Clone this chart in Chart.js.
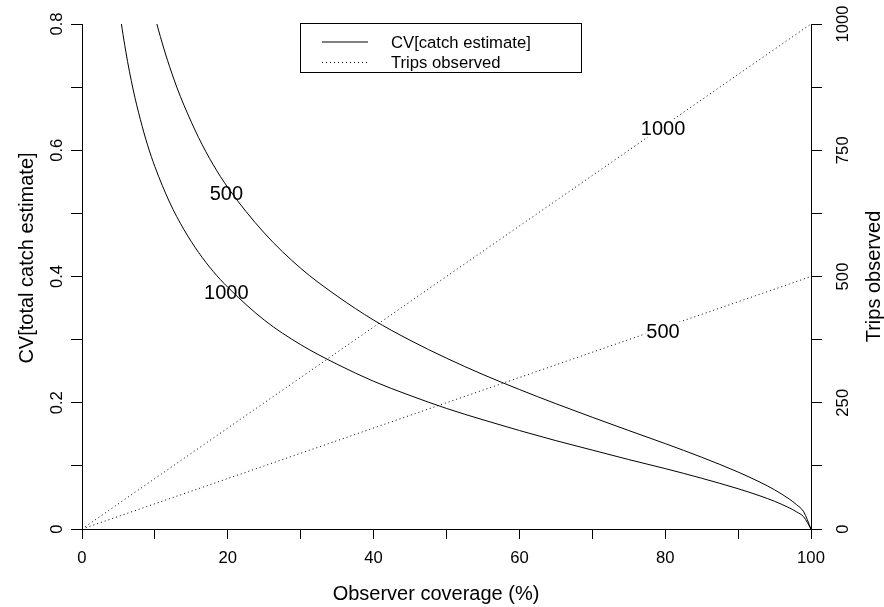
<!DOCTYPE html>
<html>
<head>
<meta charset="utf-8">
<script src="https://cdn.jsdelivr.net/npm/chart.js@4.4.1/dist/chart.umd.min.js"></script>
<style>
  html, body { margin: 0; padding: 0; background: #ffffff; }
  #wrap { width: 884px; height: 607px; }
</style>
</head>
<body>
<div id="wrap"><canvas id="c" width="884" height="607"></canvas></div>
<script>
// ---- data ----
const coverage1000 = [4, 5, 6, 7, 8, 9, 10, 12, 14, 16, 18, 20, 25, 30, 35, 40, 45, 50, 55, 60, 65, 70, 75, 80, 85, 90, 93, 95, 97, 98, 99, 100];
const cv1000 = [0.937, 0.834, 0.757, 0.697, 0.649, 0.608, 0.574, 0.518, 0.474, 0.438, 0.408, 0.383, 0.331, 0.292, 0.261, 0.234, 0.2115, 0.191, 0.173, 0.156, 0.140, 0.125, 0.110, 0.0957, 0.0804, 0.0638, 0.0525, 0.0439, 0.0336, 0.0273, 0.0192, 0];
const coverage500 = [8, 9, 10, 11, 12, 13, 14, 16, 18, 20, 25, 30, 35, 40, 45, 50, 55, 60, 65, 70, 75, 80, 85, 90, 93, 95, 97, 98, 99, 100];
const cv500 = [0.918, 0.860, 0.812, 0.770, 0.733, 0.700, 0.671, 0.620, 0.577, 0.541, 0.469, 0.413, 0.369, 0.331, 0.299, 0.2706, 0.2447, 0.221, 0.1985, 0.177, 0.156, 0.1353, 0.1137, 0.0902, 0.0742, 0.0621, 0.0476, 0.0387, 0.0272, 0];
const tripsCoverage = [0, 100];
const trips1000 = [0, 1000];
const trips500 = [0, 500];

const xTitle = 'Observer coverage (%)';
const yTitle = 'CV[total catch estimate]';
const y2Title = 'Trips observed';
const legendLabels = ['CV[catch estimate]', 'Trips observed'];
// curve labels: [text, x (coverage), value, axis]
const curveLabels = [
  ['500', 19.8, 0.531, 'y'],
  ['1000', 19.8, 0.374, 'y'],
  ['1000', 79.7, 794, 'y2'],
  ['500', 79.7, 392, 'y2']
];

const FONT = "'Liberation Sans', Arial, Helvetica, sans-serif";
const toXY = (xs, ys) => xs.map((x, i) => ({ x: x, y: ys[i] }));

const annotate = {
  id: 'annotate',
  afterDatasetsDraw(chart) {
    const ctx = chart.ctx;
    ctx.save();
    ctx.font = '20px ' + FONT;
    ctx.textAlign = 'center';
    ctx.textBaseline = 'middle';
    curveLabels.forEach(([t, xv, yv, ax]) => {
      const px = chart.scales.x.getPixelForValue(xv);
      const py = chart.scales[ax].getPixelForValue(yv);
      if (ax === 'y2') {
        const w = ctx.measureText(t).width;
        ctx.fillStyle = '#ffffff';
        ctx.fillRect(px - w / 2 - 1, py - 9, w + 2, 18);
      }
      ctx.fillStyle = '#000000';
      ctx.fillText(t, px, py + 1);
    });
    ctx.restore();
  },
  afterDraw(chart) {
    const ctx = chart.ctx;
    const a = chart.chartArea;
    ctx.save();
    ctx.fillStyle = '#000';
    // axis titles
    ctx.font = '20px ' + FONT;
    ctx.textAlign = 'center';
    ctx.textBaseline = 'alphabetic';
    ctx.fillText(xTitle, 436, 600);
    ctx.save();
    ctx.translate(33, 258);
    ctx.rotate(-Math.PI / 2);
    ctx.fillText(yTitle, 0, 0);
    ctx.restore();
    ctx.save();
    ctx.translate(880, (a.top + a.bottom) / 2);
    ctx.rotate(-Math.PI / 2);
    ctx.fillText(y2Title, 0, 0);
    ctx.restore();
    // legend
    ctx.strokeStyle = '#000';
    ctx.lineWidth = 1;
    ctx.strokeRect(300.5, 23.5, 281, 49);
    ctx.beginPath();
    ctx.moveTo(322, 42); ctx.lineTo(368, 42);
    ctx.stroke();
    ctx.setLineDash([1, 3]);
    ctx.beginPath();
    ctx.moveTo(322, 62.5); ctx.lineTo(368, 62.5);
    ctx.stroke();
    ctx.setLineDash([]);
    ctx.font = '16.67px ' + FONT;
    ctx.textAlign = 'left';
    ctx.textBaseline = 'middle';
    ctx.fillText(legendLabels[0], 391, 43);
    ctx.fillText(legendLabels[1], 391, 63);
    ctx.restore();
  }
};

const axisGrid = (len) => ({ drawOnChartArea: false, drawTicks: true, tickLength: len, color: '#000', lineWidth: 1 });
const axisBorder = { display: true, color: '#000', width: 1 };
const tickFont = { family: FONT, size: 16.67 };

new Chart(document.getElementById('c'), {
  type: 'line',
  data: {
    datasets: [
      { data: toXY(coverage500, cv500), yAxisID: 'y', borderColor: '#000', borderWidth: 1, pointRadius: 0, cubicInterpolationMode: 'monotone', fill: false },
      { data: toXY(coverage1000, cv1000), yAxisID: 'y', borderColor: '#000', borderWidth: 1, pointRadius: 0, cubicInterpolationMode: 'monotone', fill: false },
      { data: toXY(tripsCoverage, trips1000), yAxisID: 'y2', borderColor: '#000', borderWidth: 1, borderDash: [1, 3], pointRadius: 0, tension: 0, fill: false },
      { data: toXY(tripsCoverage, trips500), yAxisID: 'y2', borderColor: '#000', borderWidth: 1, borderDash: [1, 3], pointRadius: 0, tension: 0, fill: false }
    ]
  },
  options: {
    responsive: false,
    animation: false,
    layout: { padding: { top: 24, left: 0, right: 0, bottom: 0 } },
    plugins: { legend: { display: false }, tooltip: { enabled: false } },
    scales: {
      x: {
        type: 'linear', position: 'bottom', min: 0, max: 100,
        grid: axisGrid(10), border: axisBorder,
        ticks: {
          stepSize: 10, autoSkip: false, maxRotation: 0, color: '#000', font: tickFont, padding: 9,
          callback: (v) => (Math.round(v) % 20 === 0 ? String(Math.round(v)) : '')
        },
        afterFit: (s) => { s.height = 78; }
      },
      y: {
        type: 'linear', position: 'left', min: 0, max: 0.8,
        grid: axisGrid(11), border: axisBorder,
        ticks: {
          stepSize: 0.1, autoSkip: false, minRotation: 90, maxRotation: 90, crossAlign: 'center',
          color: '#000', font: tickFont, padding: 2.5,
          callback: (v) => (Math.round(v * 10) % 2 === 0 ? String(+(+v).toFixed(1)) : '')
        },
        afterFit: (s) => { s.width = 82; }
      },
      y2: {
        type: 'linear', position: 'right', min: 0, max: 1000,
        grid: axisGrid(11), border: axisBorder,
        ticks: {
          stepSize: 125, autoSkip: false, minRotation: 90, maxRotation: 90, crossAlign: 'center',
          color: '#000', font: tickFont, padding: 2.5,
          callback: (v) => (Math.round(v) % 250 === 0 ? String(Math.round(v)) : '')
        },
        afterFit: (s) => { s.width = 73; }
      }
    }
  },
  plugins: [annotate]
});
</script>
</body>
</html>
